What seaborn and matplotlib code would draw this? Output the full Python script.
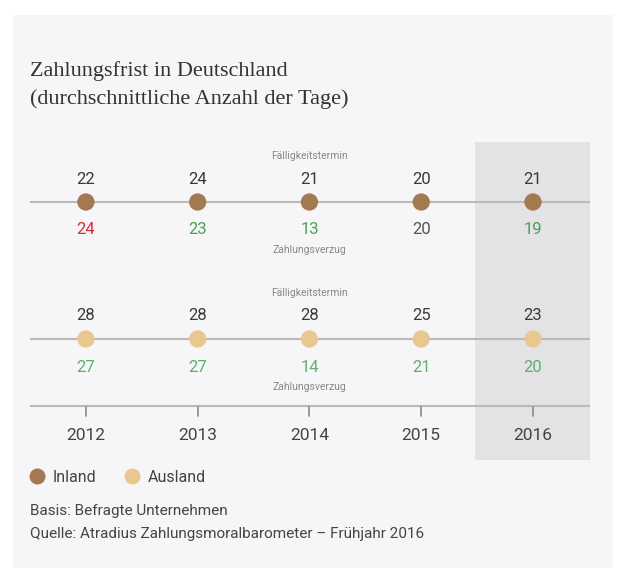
import seaborn as sns
import matplotlib.pyplot as plt
import pandas as pd
from matplotlib.patches import Rectangle
from matplotlib import font_manager

years = [2012, 2013, 2014, 2015, 2016]
regions = ['Inland', 'Ausland']
inland_term = [22, 24, 21, 20, 21]
inland_delay = [24, 23, 13, 20, 19]
ausland_term = [28, 28, 28, 25, 23]
ausland_delay = [27, 27, 14, 21, 20]

title = 'Zahlungsfrist in Deutschland\n(durchschnittliche Anzahl der Tage)'
note1 = 'Basis: Befragte Unternehmen'
note2 = 'Quelle: Atradius Zahlungsmoralbarometer – Frühjahr 2016'

# row layout in pixel-like units (y grows downward)
row_y = {'Inland': 202, 'Ausland': 339}
dot_colors = {'Inland': '#a47851', 'Ausland': '#e8c88f'}

installed = {f.name for f in font_manager.fontManager.ttflist}
narrow = 'Liberation Sans Narrow' if 'Liberation Sans Narrow' in installed else 'Roboto'

sns.set_theme(style='white')
plt.rcParams['font.family'] = [narrow, 'DejaVu Sans']

df = pd.DataFrame({
    'year': years * 2,
    'region': ['Inland'] * 5 + ['Ausland'] * 5,
    'term': inland_term + ausland_term,
    'delay': inland_delay + ausland_delay,
})
df['y'] = df['region'].map(row_y)

fig = plt.figure(figsize=(6.19, 5.82), dpi=100)
fig.patch.set_facecolor('white')
fig.patches.append(Rectangle((13 / 619, 1 - 568 / 582), 600 / 619, 553 / 582,
                             transform=fig.transFigure, facecolor='#f6f6f8',
                             edgecolor='none', zorder=-5))

ax = fig.add_axes([30 / 619, 0, 560 / 619, 1])
ax.set_zorder(2)
ax.set_facecolor('none')
ax.set_xlim(2011.5, 2016.51)
ax.set_ylim(582, 0)
ax.axis('off')

# highlight current year
ax.axvspan(2015.48, 2016.51, ymin=1 - 460 / 582, ymax=1 - 142 / 582,
           color='#e3e3e5', zorder=0, lw=0)

# row lines and axis
for r in regions:
    ax.axhline(row_y[r], color='#b9b9bb', lw=1.5, zorder=1)
ax.axhline(406, color='#b9b9bb', lw=1.5, zorder=1)
for yr in years:
    ax.plot([yr, yr], [407, 416], color='#888888', lw=1.2)
    ax.text(yr, 436, str(yr), ha='center', va='center', fontsize=12.5, color='#444444')

sns.scatterplot(data=df, x='year', y='y', hue='region', palette=dot_colors,
                s=155, edgecolor='none', ax=ax, zorder=3, legend=True)

for _, row in df.iterrows():
    y = row['y']
    ax.text(row['year'], y - 23, str(row['term']), ha='center', va='center',
            fontsize=12, color='#3a3a3a')
    if row['delay'] > row['term']:
        c = '#d8263b'
    elif row['delay'] < row['term']:
        c = '#4d9e55' if row['region'] == 'Inland' else '#5fae6d'
    else:
        c = '#555555'
    ax.text(row['year'], y + 28, str(row['delay']), ha='center', va='center',
            fontsize=12, color=c)

for r in regions:
    ax.text(2014, row_y[r] - 46, 'Fälligkeitstermin', ha='center', va='center',
            fontsize=7.5, color='#888888')
    ax.text(2014, row_y[r] + 48, 'Zahlungsverzug', ha='center', va='center',
            fontsize=7.5, color='#888888')

h, l = ax.get_legend_handles_labels()
for hd in h:
    hd.set_markersize(11.5)
leg = ax.legend(h, l, loc='center left', bbox_to_anchor=(21 / 619, 1 - 477 / 582),
                bbox_transform=fig.transFigure, ncol=2, frameon=False, fontsize=11.5,
                handlelength=1.2, handletextpad=0.4, columnspacing=1.6,
                borderpad=0.4, borderaxespad=0)
for t in leg.get_texts():
    t.set_color('#444444')

fig.text(30 / 619, 1 - 85 / 582, title, ha='left', va='center',
         fontsize=16, color='#333333', family=['Liberation Serif', 'DejaVu Serif'],
         linespacing=1.55)
fig.text(30 / 619, 1 - 511 / 582, note1, ha='left', va='center', fontsize=11,
         color='#444444')
fig.text(30 / 619, 1 - 534 / 582, note2, ha='left', va='center', fontsize=11,
         color='#444444')

fig.savefig('out.png', dpi=100, facecolor='white')
